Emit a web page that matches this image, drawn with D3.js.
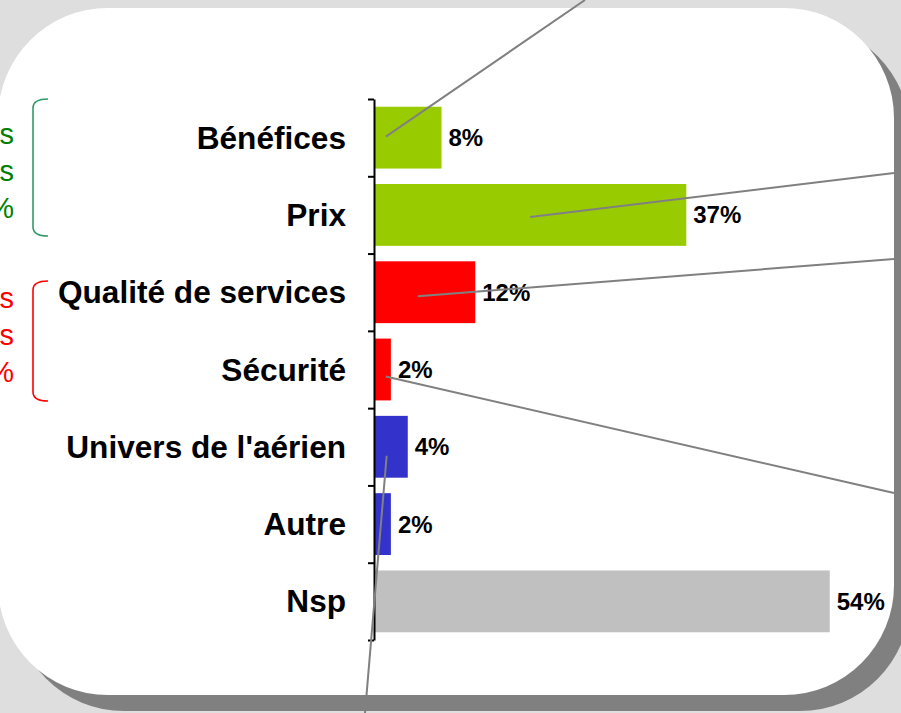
<html>
<head>
<meta charset="utf-8">
<script src="https://d3js.org/d3.v7.min.js"></script>
<style>
body { margin: 0; background: #dedede; }
svg { display: block; font-family: "Liberation Sans", Arial, sans-serif; }
</style>
</head>
<body>
<script>
var w = 901, h = 713;

// data
var categories = ["Bénéfices", "Prix", "Qualité de services", "Sécurité", "Univers de l'aérien", "Autre", "Nsp"];
var values = [8, 37, 12, 2, 4, 2, 54];
var groups = ["eco", "eco", "qual", "qual", "autre", "autre", "nsp"];
var groupColors = {eco: "#99cc00", qual: "#ff0000", autre: "#3333cc", nsp: "#c0c0c0"};

// side notes (cut by the left edge in the original)
var noteEco = ["Aspects", "économiques", "45%"];
var noteQual = ["Aspects", "qualitatifs", "14%"];

// callout lines: start inside a bar (value, category, dy), end at the off-chart comment
var callouts = [
	{v: 1.4, cat: "Bénéfices", dy: -1, ex: 585, ey: 0},
	{v: 18.5, cat: "Prix", dy: 2, ex: 894, ey: 173},
	{v: 5.2, cat: "Qualité de services", dy: 4, ex: 894, ey: 259},
	{v: 1.4, cat: "Sécurité", dy: 7, ex: 894, ey: 493},
	{v: 1.5, cat: "Univers de l'aérien", dy: 9, ex: 365, ey: 713}
];

var svg = d3.select("body").append("svg")
	.attr("width", w)
	.attr("height", h);

svg.append("rect").attr("width", w).attr("height", h).attr("fill", "#dedede");

// card + shadow
svg.append("rect")
	.attr("x", -2 + 16).attr("y", 8 + 16)
	.attr("width", 896).attr("height", 687)
	.attr("rx", 110).attr("ry", 110)
	.attr("fill", "#808080");
svg.append("rect")
	.attr("x", -2).attr("y", 8)
	.attr("width", 896).attr("height", 687)
	.attr("rx", 110).attr("ry", 110)
	.attr("fill", "#ffffff");

var x = d3.scaleLinear().domain([0, 60]).range([374, 880.4]);
var y = d3.scaleBand().domain(categories).range([99, 640]).paddingInner(0.2).paddingOuter(0.1);
var yEdge = d3.scaleLinear().domain([0, categories.length]).range([y(categories[0]) - y.step() * 0.1, y(categories[0]) - y.step() * 0.1 + y.step() * categories.length]);

// braces and notes on the left
function brace(y0, y1, color) {
	var x0 = 33, x1 = 48, r = 9;
	svg.append("path")
		.attr("d", "M" + x1 + "," + y0 + " Q" + x0 + "," + y0 + " " + x0 + "," + (y0 + r) +
			" L" + x0 + "," + (y1 - r) + " Q" + x0 + "," + y1 + " " + x1 + "," + y1)
		.attr("fill", "none")
		.attr("stroke", color)
		.attr("stroke-width", 1.6);
}
brace(99, 236, "#339966");
brace(281, 401, "#ff0000");

function note(lines, yc, color) {
	svg.append("g").selectAll("text")
		.data(lines)
		.enter().append("text")
		.attr("x", 14)
		.attr("y", function(d, i) { return yc + (i - 1) * 37; })
		.attr("text-anchor", "end")
		.attr("dominant-baseline", "central")
		.attr("font-size", 29)
		.attr("fill", color)
		.text(function(d) { return d; });
}
note(noteEco, 171, "#008000");
note(noteQual, 335, "#ff0000");

// bars
svg.append("g").selectAll("rect")
	.data(categories)
	.enter().append("rect")
	.attr("x", x(0))
	.attr("y", function(d) { return y(d); })
	.attr("width", function(d, i) { return x(values[i]) - x(0); })
	.attr("height", y.bandwidth())
	.attr("fill", function(d, i) { return groupColors[groups[i]]; });

// axis
var axis = svg.append("g")
	.attr("transform", "translate(" + x(0) + ",0)")
	.call(d3.axisLeft(yEdge).tickValues(d3.range(categories.length + 1)).tickFormat("").tickSize(6).tickSizeOuter(0));
axis.selectAll("path, line").attr("stroke", "#000").attr("stroke-width", 2);

// category labels
svg.append("g").selectAll("text")
	.data(categories)
	.enter().append("text")
	.attr("x", 346)
	.attr("y", function(d) { return y(d) + y.bandwidth() / 2; })
	.attr("text-anchor", "end")
	.attr("dominant-baseline", "central")
	.attr("font-size", 31.6)
	.attr("font-weight", "bold")
	.text(function(d) { return d; });

// value labels
svg.append("g").selectAll("text")
	.data(categories)
	.enter().append("text")
	.attr("x", function(d, i) { return x(values[i]) + 7; })
	.attr("y", function(d) { return y(d) + y.bandwidth() / 2; })
	.attr("dominant-baseline", "central")
	.attr("font-size", 24)
	.attr("font-weight", "bold")
	.text(function(d, i) { return values[i] + "%"; });

// callout lines
svg.append("g").selectAll("line")
	.data(callouts)
	.enter().append("line")
	.attr("x1", function(d) { return x(d.v); })
	.attr("y1", function(d) { return y(d.cat) + y.bandwidth() / 2 + d.dy; })
	.attr("x2", function(d) { return d.ex; })
	.attr("y2", function(d) { return d.ey; })
	.attr("stroke", "#808080")
	.attr("stroke-width", 2);
</script>
</body>
</html>
